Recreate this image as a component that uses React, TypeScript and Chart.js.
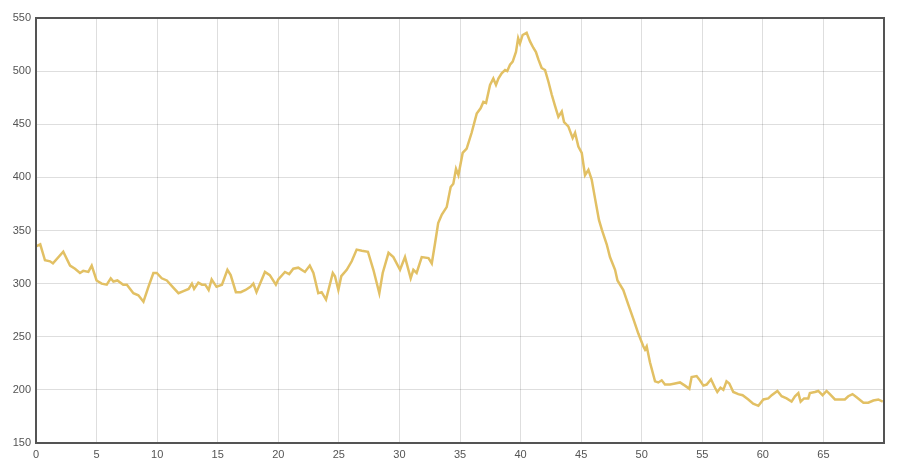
import { useEffect, useRef } from "react"
import { Chart, registerables } from "chart.js"

Chart.register(...registerables)

// x positions of the samples
const xValues = [
  0, 0.35, 0.74, 1.16, 1.4, 2.25, 2.81, 3.22, 3.63, 3.9, 4.32, 4.6, 5.0, 5.42, 5.84, 6.17, 6.39, 6.72,
  7.2, 7.5, 8.04, 8.45, 8.87, 9.28, 9.69, 9.97, 10.38, 10.8, 11.35, 11.76, 12.17, 12.6, 12.87, 13.05,
  13.4, 13.7, 13.97, 14.25, 14.5, 14.9, 15.35, 15.8, 16.07, 16.5, 16.9, 17.3, 17.7, 17.94, 18.2, 18.9,
  19.3, 19.8, 20.0, 20.55, 20.9, 21.24, 21.65, 22.2, 22.6, 22.9, 23.3, 23.58, 23.94, 24.5, 24.68, 24.96,
  25.2, 25.65, 26.06, 26.47, 26.9, 27.4, 27.85, 28.34, 28.62, 29.1, 29.5, 30.05, 30.46, 30.93, 31.15,
  31.42, 31.84, 32.4, 32.67, 32.94, 33.2, 33.5, 33.9, 34.23, 34.45, 34.67, 34.87, 35.22, 35.55, 35.96,
  36.38, 36.7, 36.93, 37.15, 37.48, 37.75, 37.97, 38.17, 38.44, 38.72, 38.9, 39.13, 39.35, 39.62, 39.8,
  39.95, 40.17, 40.5, 40.78, 41.05, 41.27, 41.47, 41.74, 42.02, 42.3, 42.57, 42.85, 43.12, 43.4, 43.59,
  43.94, 44.3, 44.5, 44.77, 45.05, 45.32, 45.6, 45.87, 46.15, 46.47, 46.7, 47.11, 47.38, 47.8, 48.0,
  48.48, 48.9, 49.3, 49.72, 50.13, 50.27, 50.41, 50.68, 51.1, 51.37, 51.65, 51.92, 52.34, 52.75, 53.16,
  53.57, 53.93, 54.12, 54.53, 54.8, 55.09, 55.36, 55.72, 56.05, 56.24, 56.5, 56.74, 57.0, 57.23, 57.56,
  57.97, 58.33, 58.8, 59.2, 59.63, 60.04, 60.45, 60.73, 61.2, 61.55, 61.96, 62.37, 62.65, 62.93, 63.12,
  63.4, 63.75, 63.88, 64.3, 64.57, 64.93, 65.26, 65.53, 65.95, 66.36, 66.77, 67.05, 67.4, 67.74, 68.3,
  68.7, 69.12, 69.53, 69.9,
]

const yValues = [
  335, 337, 322, 321, 319, 330, 317, 314, 310, 312, 311, 317, 303, 300, 299, 305, 302, 303,
  299, 299, 291, 289, 283, 297, 310, 310, 305, 303, 296, 291, 293, 295, 300, 295,
  301, 299, 299, 294, 304, 297, 299, 313, 308, 292, 292, 294, 297, 300, 292, 311,
  308, 299, 304, 311, 309, 314, 315, 311, 317, 310, 291, 292, 285, 310, 307, 294,
  307, 313, 321, 332, 331, 330, 313, 291, 310, 329, 325, 313, 325, 305, 313,
  310, 325, 324, 319, 338, 357, 365, 372, 391, 394, 408, 402, 423, 427, 442,
  460, 465, 471, 470, 487, 493, 487, 493, 498, 501, 500, 506, 509, 518, 531,
  526, 534, 536, 528, 522, 518, 511, 503, 501, 490, 478, 467, 457, 462, 452,
  448, 437, 442, 429, 423, 402, 407, 398, 380, 360, 351, 337, 325, 313, 303,
  294, 280, 267, 253, 241, 238, 241, 226, 208, 207, 209, 205, 205, 206, 207,
  204, 201, 212, 213, 209, 204, 205, 210, 202, 198, 202, 200, 208, 206, 198,
  196, 195, 191, 187, 185, 191, 192, 195, 199, 194, 192, 189, 194, 197, 189,
  192, 192, 197, 198, 199, 195, 199, 196, 191, 191, 191, 194, 196, 193, 188,
  188, 190, 191, 189,
]

const xTicks = [0, 5, 10, 15, 20, 25, 30, 35, 40, 45, 50, 55, 60, 65]
const yTicks = [150, 200, 250, 300, 350, 400, 450, 500, 550]

// dark frame round the plot area
const frame = {
  id: "frame",
  afterDraw(chart: Chart) {
    const { ctx, chartArea } = chart
    ctx.save()
    ctx.strokeStyle = "#545454"
    ctx.lineWidth = 2
    ctx.strokeRect(chartArea.left, chartArea.top, chartArea.right - chartArea.left, chartArea.bottom - chartArea.top)
    ctx.restore()
  },
}

export default function App() {
  const chartRef = useRef<HTMLCanvasElement>(null)
  const chartInstance = useRef<Chart | null>(null)

  useEffect(() => {
    if (!chartRef.current) return
    const ctx = chartRef.current.getContext("2d")
    if (!ctx) return

    if (chartInstance.current) {
      chartInstance.current.destroy()
    }

    chartInstance.current = new Chart(ctx, {
      type: "line",
      data: {
        datasets: [
          {
            data: xValues.map((x, i) => ({ x, y: yValues[i] })),
            borderColor: "#e2c064",
            borderWidth: 2.5,
            pointRadius: 0,
            tension: 0,
            fill: false,
          },
        ],
      },
      options: {
        animation: false,
        responsive: true,
        maintainAspectRatio: false,
        layout: { padding: { top: 18, right: 16, left: 0, bottom: 0 } },
        plugins: {
          legend: { display: false },
          tooltip: { enabled: false },
        },
        scales: {
          x: {
            type: "linear",
            min: 0,
            max: 70,
            afterFit: (scale: any) => {
              scale.height = 24
            },
            afterBuildTicks: (scale: any) => {
              scale.ticks = [...xTicks, 70].map((v) => ({ value: v }))
            },
            ticks: {
              padding: 5,
              maxRotation: 0,
              color: "#545454",
              font: { family: "Liberation Sans, Arial, sans-serif", size: 11 },
              callback: (v: any) => (xTicks.includes(v) ? String(v) : ""),
            },
            grid: { color: "rgba(0,0,0,0.13)", drawTicks: false },
            border: { display: false },
          },
          y: {
            min: 150,
            max: 550,
            afterFit: (scale: any) => {
              scale.width = 36
            },
            afterBuildTicks: (scale: any) => {
              scale.ticks = yTicks.map((v) => ({ value: v }))
            },
            ticks: {
              padding: 5,
              color: "#545454",
              font: { family: "Liberation Sans, Arial, sans-serif", size: 11 },
            },
            grid: { color: "rgba(0,0,0,0.13)", drawTicks: false },
            border: { display: false },
          },
        },
      },
      plugins: [frame],
    })

    return () => {
      if (chartInstance.current) {
        chartInstance.current.destroy()
        chartInstance.current = null
      }
    }
  }, [])

  return (
    <div style={{ position: "fixed", left: 0, top: 0, width: 900, height: 467, background: "#fff" }}>
      <canvas ref={chartRef} />
    </div>
  )
}
